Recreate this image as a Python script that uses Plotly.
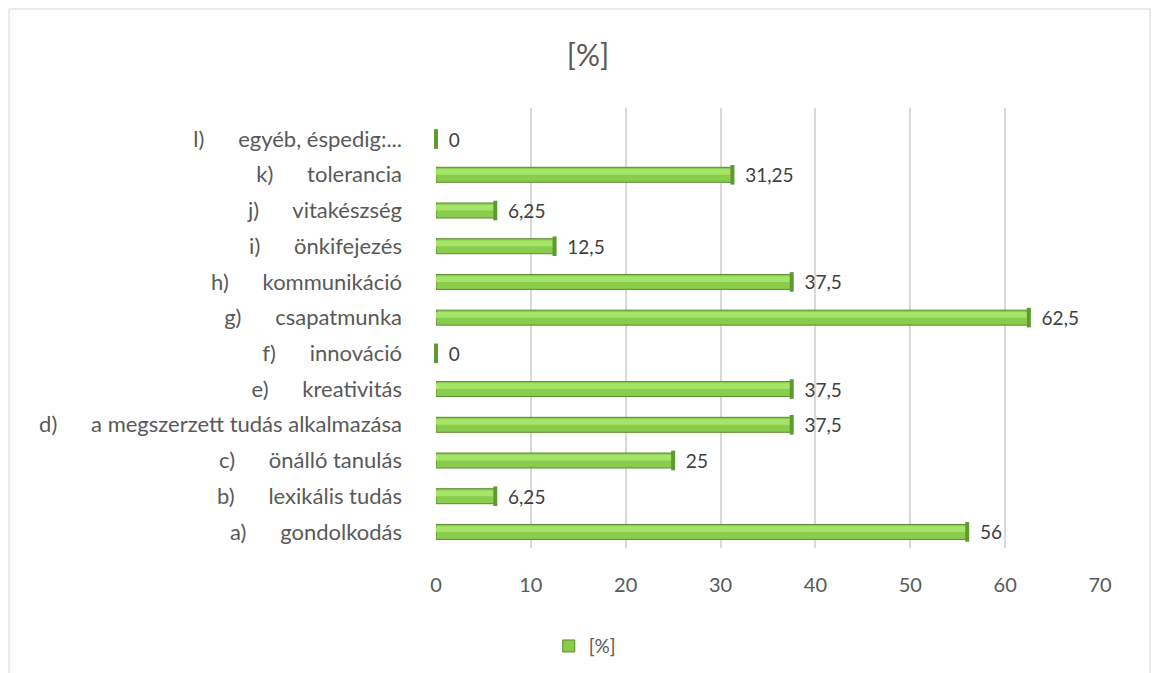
import plotly.graph_objects as go

# kategóriák (alulról felfelé, ahogy a diagramon)
letters = ['a)', 'b)', 'c)', 'd)', 'e)', 'f)', 'g)', 'h)', 'i)', 'j)', 'k)', 'l)']
labels = ['gondolkodás', 'lexikális tudás', 'önálló tanulás',
          'a megszerzett tudás alkalmazása', 'kreativitás', 'innováció',
          'csapatmunka', 'kommunikáció', 'önkifejezés', 'vitakészség',
          'tolerancia', 'egyéb, éspedig:...']
values = [56, 6.25, 25, 37.5, 37.5, 0, 62.5, 37.5, 12.5, 6.25, 31.25, 0]
x_ticks = [0, 10, 20, 30, 40, 50, 60, 70]

gap = '\u00a0' * 6
categories = [f'{l}{gap}{t}' for l, t in zip(letters, labels)]
value_text = ['\u00a0\u00a0' + f'{v:g}'.replace('.', ',') for v in values]

FONT = "Lato, 'Open Sans', sans-serif"

fig = go.Figure()

# alap henger (sötétebb zöld)
fig.add_trace(go.Bar(y=categories, x=values, orientation='h', name='[%]',
                     width=0.42, marker=dict(color='#8acd4c', line=dict(color='#5b8a30', width=1)),
                     text=value_text, textposition='outside', cliponaxis=False,
                     constraintext='none',
                     textfont=dict(size=19, color='#404040', family=FONT)))
# fény csík a henger tetején
fig.add_trace(go.Bar(y=categories, x=values, orientation='h', name='[%]', showlegend=False,
                     width=0.16, offset=0.0, marker=dict(color='#a4e466', line=dict(width=0)),
                     hoverinfo='skip'))
# henger vége (ellipszis)
fig.add_trace(go.Scatter(y=categories, x=values, mode='markers', showlegend=False,
                         marker=dict(symbol='line-ns', size=14,
                                     line=dict(color='#5f9a30', width=4)),
                         cliponaxis=False, hoverinfo='skip'))

fig.update_layout(
    width=1160, height=673,
    barmode='overlay',
    title=dict(text='[%]', x=0.5, xanchor='center', y=0.93, yanchor='middle',
               font=dict(size=30, color='#595959', family=FONT)),
    margin=dict(l=428, r=68, t=100, b=133),
    paper_bgcolor='white', plot_bgcolor='white',
    font=dict(family=FONT, size=18, color='#595959'),
    xaxis=dict(range=[0, 70], tickvals=x_ticks, showgrid=True, gridcolor='#d9d9d9', gridwidth=2,
               zeroline=False, showline=False, ticks='', ticklabelstandoff=23,
               tickfont=dict(size=20, color='#595959')),
    yaxis=dict(range=[-0.45, 11.87], showgrid=False, zeroline=False, showline=False,
               ticks='', ticklabelstandoff=33, tickfont=dict(size=22, color='#595959')),
    legend=dict(orientation='h', x=0.224, xanchor='center', y=-0.223, yanchor='middle',
                font=dict(size=19, color='#595959'), traceorder='normal'),
    shapes=[dict(type='rect', xref='paper', yref='paper',
                 x0=-0.643, x1=1.0753, y0=-0.4, y1=1.225,
                 line=dict(color='#d9d9d9', width=1), layer='below')],
)

fig.write_html("out.html")
